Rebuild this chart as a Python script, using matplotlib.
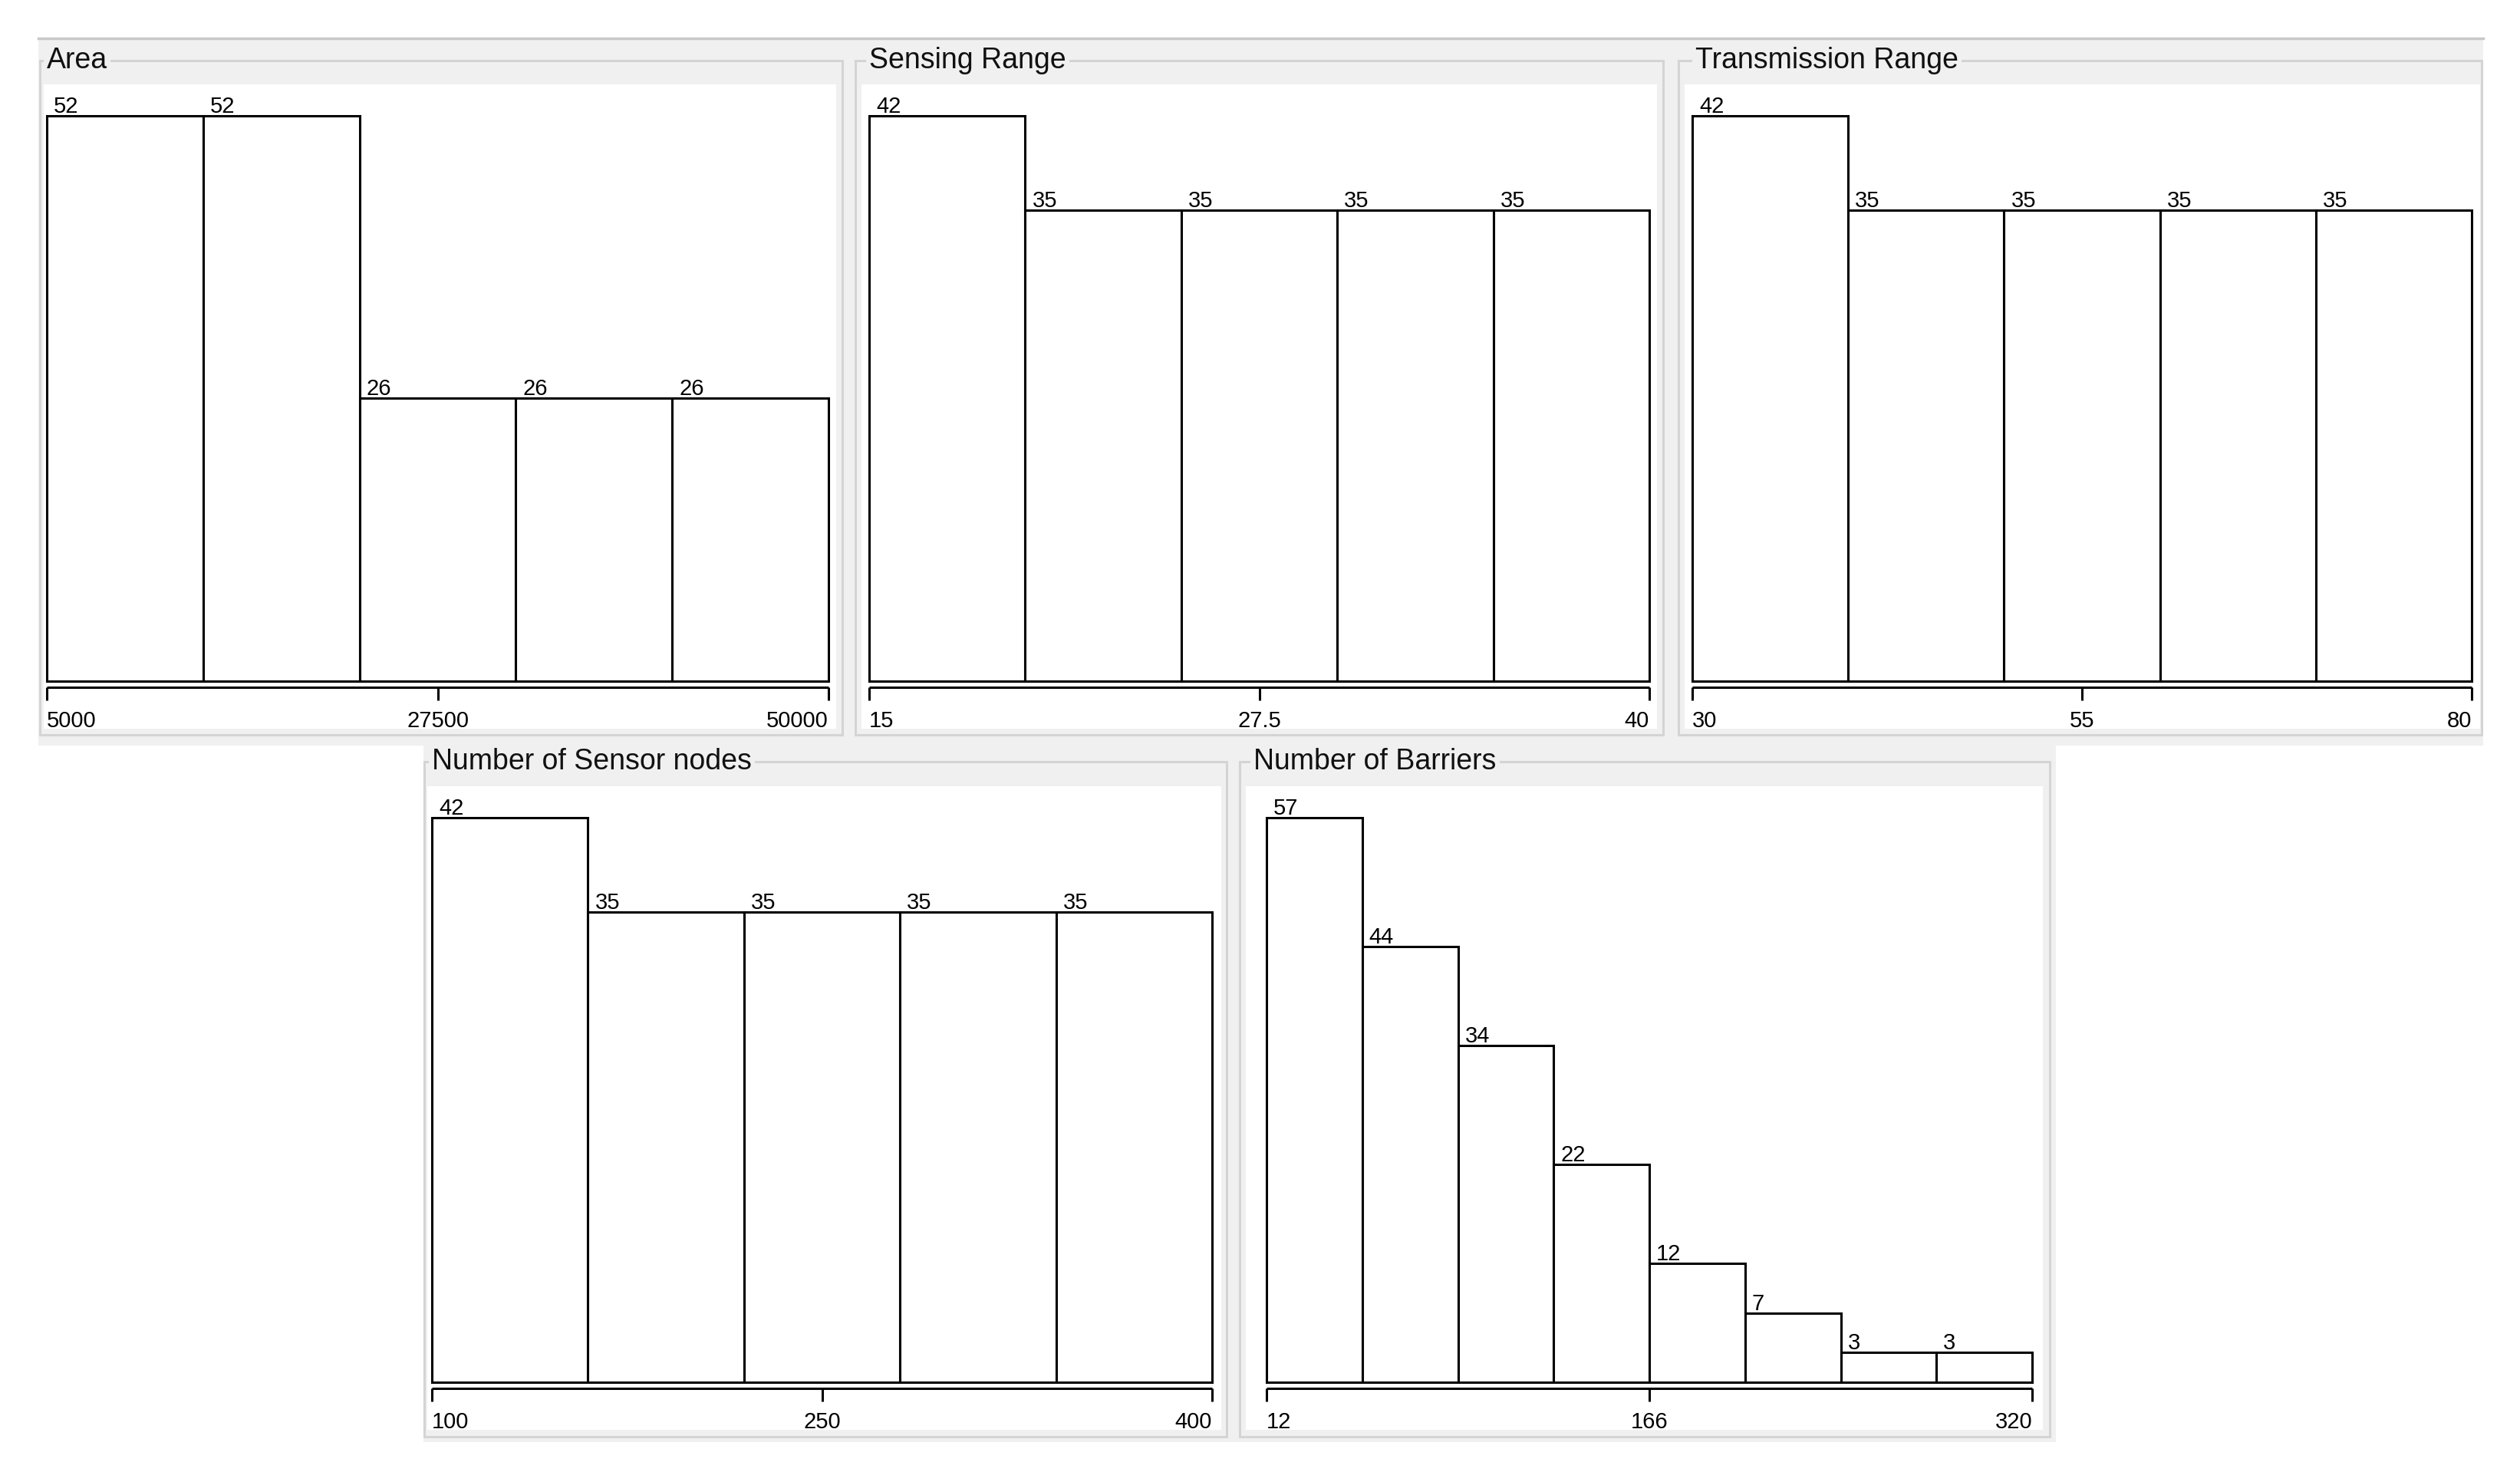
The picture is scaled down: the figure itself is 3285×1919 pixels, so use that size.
import matplotlib
matplotlib.use("Agg")
import matplotlib.pyplot as plt
from matplotlib.patches import Rectangle
from matplotlib import font_manager

W, H = 3285, 1919

# ---- data ----
titles = ["Area", "Sensing Range", "Transmission Range",
          "Number of Sensor nodes", "Number of Barriers"]

area_counts = [52, 52, 26, 26, 26]
sensing_counts = [42, 35, 35, 35, 35]
transmission_counts = [42, 35, 35, 35, 35]
sensor_counts = [42, 35, 35, 35, 35]
barrier_counts = [57, 44, 34, 22, 12, 7, 3, 3]

area_range = (5000, 50000)
sensing_range = (15, 40)
transmission_range = (30, 80)
sensor_range = (100, 400)
barrier_range = (12, 320)

area_ticks = ["5000", "27500", "50000"]
sensing_ticks = ["15", "27.5", "40"]
transmission_ticks = ["30", "55", "80"]
sensor_ticks = ["100", "250", "400"]
barrier_ticks = ["12", "166", "320"]

all_counts = [area_counts, sensing_counts, transmission_counts, sensor_counts, barrier_counts]
all_ranges = [area_range, sensing_range, transmission_range, sensor_range, barrier_range]
all_ticks = [area_ticks, sensing_ticks, transmission_ticks, sensor_ticks, barrier_ticks]

# ---- layout in pixels of the 3285x1919 picture ----
# border box, white box, bar x0/x1, bar top / base, title x
panels = [
    dict(border=(52, 79, 1098, 958), white=(57, 110, 1090, 950), bx=(61, 1080), by=(151, 888), tx=61),
    dict(border=(1115, 79, 2168, 958), white=(1123, 110, 2160, 950), bx=(1133, 2150), by=(151, 888), tx=1133),
    dict(border=(2188, 79, 3235, 958), white=(2196, 110, 3233, 950), bx=(2206, 3222), by=(151, 888), tx=2210),
    dict(border=(553, 993, 1599, 1873), white=(557, 1025, 1592, 1864), bx=(563, 1580), by=(1066, 1802), tx=563),
    dict(border=(1616, 993, 2672, 1873), white=(1624, 1025, 2663, 1864), bx=(1651, 2649), by=(1066, 1802), tx=1634),
]

GRAY = "#f0f0f0"
LINE = "#d4d4d4"

names = {f.name for f in font_manager.fontManager.ttflist}
if "Liberation Sans Narrow" in names:
    num_font, num_size = "Liberation Sans Narrow", 23
else:
    num_font, num_size = "Liberation Sans", 21
title_font = "Liberation Sans" if "Liberation Sans" in names else "DejaVu Sans"

fig = plt.figure(figsize=(W / 100, H / 100), dpi=100)
fig.patch.set_facecolor("white")

bg = fig.add_axes([0, 0, 1, 1])
bg.set_xlim(0, W)
bg.set_ylim(H, 0)
bg.axis("off")

# gray group areas
bg.add_patch(Rectangle((50, 49), 3237 - 50, 972 - 49, facecolor=GRAY, edgecolor="none"))
bg.add_patch(Rectangle((552, 972), 2680 - 552, 1880 - 972, facecolor=GRAY, edgecolor="none"))
bg.plot([50, 3237], [50, 50], color="#c8c8c8", lw=2.5)

for p, title in zip(panels, titles):
    l, t, r, b = p["border"]
    bg.add_patch(Rectangle((l, t), r - l, b - t, facecolor="none", edgecolor=LINE, lw=2.2))
    bg.text(p["tx"], t, title, fontsize=27, family=title_font, color="#111111",
            ha="left", va="center",
            bbox=dict(facecolor=GRAY, edgecolor="none", pad=3))

for p, counts, rng, ticks in zip(panels, all_counts, all_ranges, all_ticks):
    wl, wt, wr, wb = p["white"]
    bx0, bx1 = p["bx"]
    top, base = p["by"]
    lo, hi = rng
    n = len(counts)
    w = (hi - lo) / n
    cmax = max(counts)
    xpp = (hi - lo) / (bx1 - bx0)
    upp = cmax / (base - top)

    ax = fig.add_axes([wl / W, 1 - wb / H, (wr - wl) / W, (wb - wt) / H])
    ax.set_facecolor("white")
    ax.set_xlim(lo - (bx0 - wl) * xpp, hi + (wr - bx1) * xpp)
    ax.set_ylim(-(wb - base) * upp, (base - wt) * upp)
    ax.set_xticks([])
    ax.set_yticks([])
    for s in ax.spines.values():
        s.set_visible(False)

    lefts = [lo + i * w for i in range(n)]
    ax.bar(lefts, counts, width=w, align="edge", facecolor="white",
           edgecolor="black", linewidth=2.2)
    for x, c in zip(lefts, counts):
        ax.text(x + 9 * xpp, c + 4 * upp, str(c), ha="left", va="baseline",
                family=num_font, fontsize=num_size)

    # axis line under the bars
    ya = -8 * upp
    ax.plot([lo, hi], [ya, ya], color="black", lw=2.2, solid_capstyle="butt")
    mid = (lo + hi) / 2
    for x in [lo, mid, hi]:
        ax.plot([x, x], [ya, -25 * upp], color="black", lw=2.2, solid_capstyle="butt")
    yl = -60 * upp
    ax.text(lo, yl, ticks[0], ha="left", va="baseline", family=num_font, fontsize=num_size)
    ax.text(mid, yl, ticks[1], ha="center", va="baseline", family=num_font, fontsize=num_size)
    ax.text(hi, yl, ticks[2], ha="right", va="baseline", family=num_font, fontsize=num_size)

fig.savefig("out.png", dpi=100, facecolor="white")
